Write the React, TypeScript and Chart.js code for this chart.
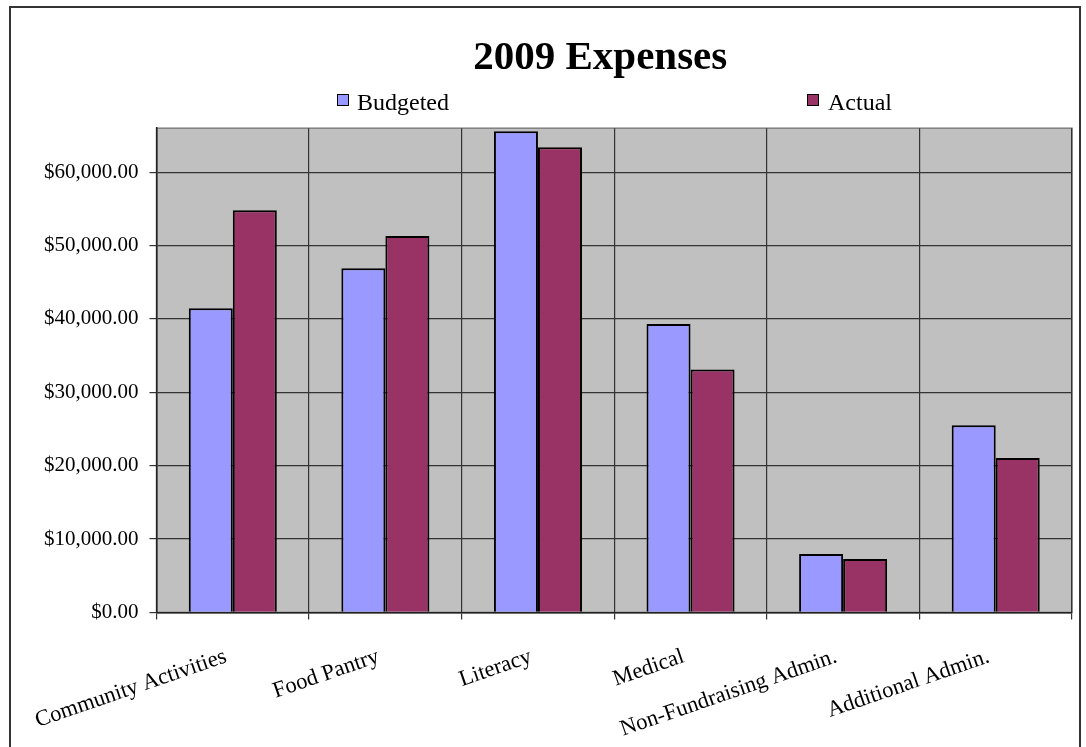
import React, { useEffect, useRef } from "react";
import { Chart, registerables } from "chart.js";

Chart.register(...registerables);

const categories = [
  "Community Activities",
  "Food Pantry",
  "Literacy",
  "Medical",
  "Non-Fundraising Admin.",
  "Additional Admin.",
];
const seriesNames = ["Budgeted", "Actual"];
const seriesColors = ["#9999ff", "#993366"];
const budgeted = [41450, 46900, 65600, 39300, 7970, 25500];
const actual = [54800, 51300, 63400, 33100, 7280, 21050];
const yTickValues = [0, 10000, 20000, 30000, 40000, 50000, 60000];
const yMin = 0;
const yMax = 66000;
const titleText = "2009 Expenses";

const SERIF = "'Liberation Serif', 'Times New Roman', serif";

const plotBackground = {
  id: "plotBackground",
  afterLayout(chart: any) {
    // Excel centres the title over a slightly wider box than the plot area
    const t = chart.titleBlock;
    if (t) t.left -= 28;
  },
  beforeDraw(chart: any) {
    const { ctx, chartArea } = chart;
    if (!chartArea) return;
    const { left, top, right, bottom } = chartArea;
    ctx.save();
    ctx.fillStyle = "#c0c0c0";
    ctx.fillRect(left, top, right - left, bottom - top);
    ctx.strokeStyle = "#808080";
    ctx.lineWidth = 1.5;
    ctx.strokeRect(left, top, right - left, bottom - top);
    ctx.restore();
  },
};

function formatMoney(v: number) {
  return (
    "$" +
    Number(v).toLocaleString("en-US", {
      minimumFractionDigits: 2,
      maximumFractionDigits: 2,
    })
  );
}

export default function App() {
  const canvasRef = useRef<HTMLCanvasElement | null>(null);

  useEffect(() => {
    const canvas = canvasRef.current;
    if (!canvas) return;
    const chart = new Chart(canvas, {
      type: "bar",
      data: {
        labels: categories,
        datasets: [
          {
            label: seriesNames[0],
            data: budgeted,
            backgroundColor: seriesColors[0],
            borderColor: "#000",
            borderWidth: 2,
            categoryPercentage: 0.577,
            barPercentage: 1.0,
          },
          {
            label: seriesNames[1],
            data: actual,
            backgroundColor: seriesColors[1],
            borderColor: "#000",
            borderWidth: 2,
            categoryPercentage: 0.577,
            barPercentage: 1.0,
          },
        ],
      },
      options: {
        responsive: false,
        animation: false,
        devicePixelRatio: 1,
        layout: { padding: { left: 33, right: 14, top: 0, bottom: 0 } },
        plugins: {
          legend: { display: false },
          tooltip: { enabled: false },
          title: {
            display: true,
            text: titleText,
            fullSize: false,
            color: "#000",
            font: { family: SERIF, size: 41, weight: "bold" },
            padding: { top: 34, bottom: 45 },
          },
        },
        scales: {
          x: {
            grid: {
              offset: true,
              color: "#333",
              lineWidth: 1.2,
              tickLength: 7,
              tickColor: "#333",
            },
            border: { color: "#222", width: 1.5 },
            ticks: {
              autoSkip: false,
              minRotation: 19,
              maxRotation: 19,
              padding: 24,
              labelOffset: -7,
              color: "#000",
              font: { family: SERIF, size: 22.5 },
            },
          },
          y: {
            min: yMin,
            max: yMax,
            afterBuildTicks: (scale: any) => {
              scale.ticks = yTickValues.map((v) => ({ value: v }));
            },
            grid: {
              color: "#333",
              lineWidth: 1.2,
              tickLength: 7,
              tickColor: "#333",
            },
            border: { color: "#222", width: 1.5 },
            ticks: {
              padding: 11,
              color: "#000",
              font: { family: SERIF, size: 21 },
              callback: (v: any) => formatMoney(Number(v)),
            },
          },
        },
      },
      plugins: [plotBackground],
    });
    return () => chart.destroy();
  }, []);

  const legendItems = [
    { name: seriesNames[0], color: seriesColors[0], boxLeft: 337, textLeft: 357 },
    { name: seriesNames[1], color: seriesColors[1], boxLeft: 807, textLeft: 828 },
  ];

  return (
    <div
      style={{
        position: "fixed",
        left: 0,
        top: 0,
        width: 1086,
        height: 747,
        overflow: "hidden",
        background: "#fff",
      }}
    >
      <canvas
        ref={canvasRef}
        width={1086}
        height={767}
        style={{ position: "absolute", left: 0, top: 0, width: 1086, height: 767, display: "block" }}
      />
      {legendItems.map((it) => (
        <React.Fragment key={it.name}>
          <div
            style={{
              position: "absolute",
              left: it.boxLeft,
              top: 94,
              width: 10,
              height: 10,
              background: it.color,
              border: "1.5px solid #000",
            }}
          />
          <div
            style={{
              position: "absolute",
              left: it.textLeft,
              top: 90,
              fontFamily: SERIF,
              fontSize: 24,
              lineHeight: "24px",
              color: "#000",
              whiteSpace: "nowrap",
            }}
          >
            {it.name}
          </div>
        </React.Fragment>
      ))}
      <div
        style={{
          position: "absolute",
          left: 9,
          top: 6,
          width: 1068,
          height: 800,
          border: "2px solid #333",
          pointerEvents: "none",
        }}
      />
    </div>
  );
}
